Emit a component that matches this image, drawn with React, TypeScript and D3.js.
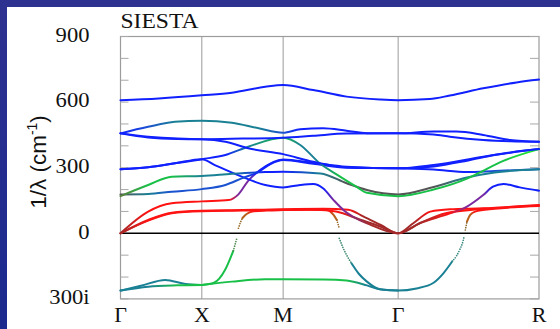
import React from 'react';
import * as d3 from 'd3';

// k-path: Γ - X - M - Γ - R (distances in units of the Γ-X length)
const kNodes = [0, 1, 2, 3.414, 5.146];
const kLabels = ['Γ', 'X', 'M', 'Γ', 'R'];
const yTickValues = [-300, 0, 300, 600, 900];
const yTickLabels = ['300i', '0', '300', '600', '900'];

// band character -> colour
const palette = {
  B: '#1020ff', N: '#1a52d0', T: '#1a8094', G: '#18c048', L: '#22ee30',
  V: '#5a8040', K: '#555555', R: '#ff1212', D: '#a42a2a', P: '#7a2aa0', O: '#b8601a',
};

// each point: [k, frequency (cm-1, negative = imaginary), character]
const bandTop = [[0, 609, 'B'], [0.47, 617, 'B'], [1, 631, 'B'], [1.37, 643, 'B'], [1.78, 670, 'B'], [2, 678, 'B'], [2.37, 655, 'B'], [2.78, 625, 'B'], [3.19, 612, 'B'], [3.414, 609, 'B'], [3.8, 614, 'B'], [4.05, 630, 'B'], [4.46, 663, 'B'], [4.87, 690, 'B'], [5.146, 703, 'B']];
const bandTeal = [[0, 457, 'B'], [0.34, 487, 'N'], [0.67, 510, 'T'], [1, 515, 'T'], [1.37, 506, 'T'], [1.7, 480, 'T'], [2, 460, 'N'], [2.21, 476, 'B'], [2.49, 480, 'B'], [2.78, 469, 'B'], [3.03, 458, 'B'], [3.414, 457, 'B'], [3.85, 465, 'B'], [4.13, 465, 'B'], [4.46, 450, 'B'], [4.79, 427, 'B'], [5.146, 419, 'B']];
const bandFlat = [[0, 457, 'B'], [0.34, 442, 'B'], [0.7, 433, 'B'], [1, 430, 'B'], [1.5, 433, 'B'], [2, 437, 'B'], [2.37, 446, 'B'], [2.78, 456, 'B'], [3.414, 457, 'B'], [3.85, 452, 'B'], [4.05, 442, 'B'], [4.46, 427, 'B'], [4.8, 421, 'B'], [5.146, 419, 'B']];
const bandCross = [[0, 457, 'B'], [0.34, 438, 'B'], [0.7, 431, 'B'], [1, 430, 'B'], [1.29, 419, 'B'], [1.57, 389, 'B'], [2, 362, 'B'], [2.37, 327, 'B'], [2.78, 302, 'B'], [3.414, 297, 'B'], [3.85, 312, 'B'], [4.46, 350, 'B'], [4.8, 370, 'B'], [5.146, 385, 'B']];
const bandGreen = [[0, 293, 'B'], [0.34, 302, 'B'], [0.67, 320, 'B'], [1, 339, 'B'], [1.29, 358, 'B'], [1.57, 396, 'T'], [2, 437, 'G'], [2.21, 404, 'T'], [2.45, 320, 'T'], [2.7, 259, 'G'], [2.9, 213, 'G'], [3.03, 185, 'G'], [3.414, 170, 'G'], [3.85, 200, 'G'], [4.26, 250, 'G'], [4.4, 275, 'G'], [4.7, 330, 'G'], [5.146, 385, 'L']];
const bandLA = [[0, 293, 'B'], [0.34, 302, 'B'], [0.67, 320, 'B'], [1, 339, 'B'], [1.16, 312, 'B'], [1.49, 259, 'B'], [1.78, 221, 'B'], [2, 210, 'B'], [2.21, 221, 'B'], [2.37, 225, 'B'], [2.49, 206, 'B'], [2.62, 152, 'P'], [2.74, 107, 'P'], [3.07, 40, 'D'], [3.414, 0, 'D'], [3.68, 46, 'D'], [4.05, 91, 'R'], [4.26, 122, 'P'], [4.46, 175, 'P'], [4.58, 213, 'B'], [4.71, 225, 'B'], [4.91, 210, 'B'], [5.146, 195, 'B']];
const bandGray = [[0, 170, 'V'], [0.34, 221, 'G'], [0.63, 259, 'G'], [1, 262, 'T'], [1.37, 272, 'T'], [1.78, 280, 'B'], [2, 282, 'B'], [2.46, 274, 'T'], [2.78, 229, 'K'], [3.03, 198, 'K'], [3.414, 178, 'K'], [3.85, 212, 'K'], [4.26, 255, 'T'], [4.6, 278, 'T'], [5.146, 293, 'T']];
const bandMid = [[0, 178, 'K'], [0.34, 180, 'T'], [0.63, 190, 'N'], [1, 202, 'N'], [1.29, 221, 'N'], [1.49, 251, 'N'], [1.7, 282, 'B'], [1.85, 318, 'B'], [2, 335, 'B'], [2.37, 318, 'B'], [2.78, 300, 'B'], [3.414, 297, 'B'], [3.85, 292, 'B'], [4.26, 280, 'B'], [4.6, 285, 'N'], [5.146, 293, 'N']];
const bandRise = [[0, 0, 'D'], [0.34, 99, 'R'], [0.63, 137, 'R'], [1, 146, 'R'], [1.33, 152, 'R'], [1.45, 178, 'P'], [1.57, 240, 'P'], [1.72, 290, 'B'], [2, 338, 'B'], [2.37, 322, 'B'], [2.78, 304, 'B'], [3.414, 297, 'B'], [3.85, 306, 'B'], [4.26, 332, 'B'], [4.6, 358, 'B'], [5.146, 385, 'B']];
const bandTA1 = [[0, 0, 'D'], [0.34, 61, 'R'], [0.63, 94, 'R'], [1, 103, 'R'], [1.5, 106, 'R'], [2, 110, 'R'], [2.5, 112, 'R'], [2.8, 108, 'R'], [2.99, 76, 'D'], [3.2, 38, 'D'], [3.414, 0, 'D'], [3.6, 46, 'D'], [3.81, 99, 'R'], [4.05, 110, 'R'], [4.46, 114, 'R'], [5.146, 129, 'R']];
const bandTA2 = [[0, 0, 'D'], [0.34, 58, 'R'], [0.63, 92, 'R'], [1, 101, 'R'], [1.5, 104, 'R'], [2, 108, 'R'], [2.4, 108, 'R'], [2.65, 100, 'R'], [2.95, 62, 'D'], [3.2, 30, 'D'], [3.414, 0, 'D'], [3.7, 50, 'D'], [4.0, 92, 'R'], [4.4, 110, 'R'], [4.8, 120, 'R'], [5.146, 127, 'R']];
const bandSoftBump = [[0, -262, 'T'], [0.25, -240, 'T'], [0.55, -213, 'T'], [0.8, -232, 'T'], [1, -236, 'G']];
const bandSoftLow = [[0, -262, 'T'], [0.34, -244, 'T'], [0.7, -238, 'G'], [1, -236, 'G']];
const bandSoftFlat = [[1, -236, 'G'], [1.37, -221, 'G'], [1.78, -210, 'G'], [2, -210, 'G'], [2.5, -211, 'G'], [2.78, -216, 'G'], [3.03, -238, 'T'], [3.19, -256, 'T'], [3.414, -262, 'T']];
const bandSoftA = [[1, -236, 'G'], [1.15, -226, 'G'], [1.285, -168, 'G'], [1.387, -80, 'G']];
const bandSoftB = [[1.5, 70, 'O'], [1.55, 88, 'O'], [1.62, 100, 'R'], [1.8, 104, 'R'], [2, 106, 'R'], [2.3, 108, 'R'], [2.54, 107, 'R'], [2.62, 84, 'O'], [2.66, 61, 'O']];
const bandSoftC = [[2.84, -137, 'T'], [2.93, -185, 'T'], [3.03, -221, 'T'], [3.19, -256, 'T'], [3.414, -262, 'T'], [3.64, -252, 'T'], [3.85, -226, 'T'], [3.97, -183, 'T'], [4.08, -128, 'T']];
const bandSoftD = [[4.26, 53, 'O'], [4.3, 84, 'O'], [4.36, 99, 'R'], [4.6, 112, 'R'], [5.146, 125, 'R']];

// sparse points where the soft mode crosses zero
const dotsA = [[1.387, -80], [1.41, -50], [1.43, -23]];
const dotsB = [[1.45, 23], [1.475, 50], [1.5, 70]];
const dotsC = [[2.66, 61], [2.675, 42], [2.69, 23]];
const dotsD = [[2.69, -23], [2.74, -69], [2.78, -99], [2.84, -137]];
const dotsE = [[4.08, -128], [4.13, -104], [4.17, -76], [4.21, -38], [4.225, -15]];
const dotsF = [[4.24, 15], [4.26, 53]];

const solidBands = [bandSoftBump, bandSoftLow, bandSoftFlat, bandSoftA, bandSoftB, bandSoftC, bandSoftD,
  bandTA1, bandTA2, bandRise, bandLA, bandMid, bandGray, bandGreen, bandCross, bandFlat, bandTeal, bandTop];
const dottedBands = [
  { pts: dotsA, color: '#4f8a50' }, { pts: dotsB, color: '#9a6a2a' }, { pts: dotsC, color: '#9a6a2a' },
  { pts: dotsD, color: '#3f8a70' }, { pts: dotsE, color: '#3a8a80' }, { pts: dotsF, color: '#8a6a30' },
];

const W = 560;
const H = 329;

export default function App() {
  const x = d3.scaleLinear().domain([0, 5.146]).range([120.5, 539]);
  const y = d3.scaleLinear().domain([-300, 900]).range([298.9, 36.5]);
  const line = d3.line().x(d => x(d[0])).y(d => y(d[1])).curve(d3.curveMonotoneX);
  const minor = d3.range(-300, 901, 100);
  const serif = '"Liberation Serif", "Times New Roman", serif';

  return (
    <svg width={W} height={H} style={{ position: 'absolute', left: 0, top: 0 }}>
      <defs>
        <linearGradient id="bg" x1="0" y1="0" x2="0" y2="1">
          <stop offset="0" stopColor="#2e3190" />
          <stop offset="1" stopColor="#1b2a8e" />
        </linearGradient>
        {solidBands.map((b, i) => {
          const x1 = x(b[0][0]);
          const x2 = x(b[b.length - 1][0]);
          return (
            <linearGradient key={i} id={`band${i}`} gradientUnits="userSpaceOnUse" x1={x1} y1={0} x2={x2} y2={0}>
              {b.map((p, j) => (
                <stop key={j} offset={(x(p[0]) - x1) / (x2 - x1)} stopColor={palette[p[2]]} />
              ))}
            </linearGradient>
          );
        })}
      </defs>
      <rect x={0} y={0} width={W} height={H} fill="url(#bg)" />
      <rect x={7} y={7} width={W - 7} height={H - 7} fill="#ffffff" />

      <text x={120.5} y={28} fontFamily={serif} fontSize={20} textLength={78} lengthAdjust="spacingAndGlyphs" fill="#111">SIESTA</text>

      {/* frame, ticks, symmetry lines */}
      <rect x={x(0)} y={y(900)} width={x(5.146) - x(0)} height={y(-300) - y(900)} fill="none" stroke="#9c9c9c" strokeWidth={1.2} />
      {minor.map(v => (
        <g key={v} stroke="#a8a8a8" strokeWidth={1}>
          <line x1={x(0)} x2={x(0) + 8} y1={y(v)} y2={y(v)} />
          <line x1={x(5.146) - 9} x2={x(5.146)} y1={y(v)} y2={y(v)} />
        </g>
      ))}
      {kNodes.slice(1, 4).map((k, i) => (
        <line key={i} x1={x(k)} x2={x(k)} y1={y(900)} y2={y(-300)} stroke="#9a9a9a" strokeWidth={1} />
      ))}
      <line x1={x(0)} x2={x(5.146)} y1={y(0)} y2={y(0)} stroke="#000" strokeWidth={1.4} />

      {solidBands.map((b, i) => (
        <path key={i} d={line(b)} fill="none" stroke={`url(#band${i})`} strokeWidth={2}
          strokeLinecap="round" strokeLinejoin="round" />
      ))}
      {dottedBands.map((b, i) => (
        <path key={i} d={line(b.pts)} fill="none" stroke={b.color} strokeWidth={1.7}
          strokeLinecap="round" strokeDasharray="0 2.4" />
      ))}

      {yTickValues.map((v, i) => (
        <text key={v} transform={`translate(89.5,${y(v) + 5.2}) scale(1.13,1)`} textAnchor="end"
          fontFamily={serif} fontSize={20} fill="#111">{yTickLabels[i]}</text>
      ))}
      {kNodes.map((k, i) => (
        <text key={i} x={x(k)} y={321.5} textAnchor="middle" fontFamily={serif} fontSize={22} fill="#111">{kLabels[i]}</text>
      ))}

      <text transform="translate(46,162) rotate(-90)" textAnchor="middle" fontFamily='"Liberation Sans", Arial, sans-serif'
        fontSize={22.5} fill="#111">
        1/λ (cm<tspan fontSize={14} dy={-9}>-1</tspan><tspan dy={9}>)</tspan>
      </text>
    </svg>
  );
}
